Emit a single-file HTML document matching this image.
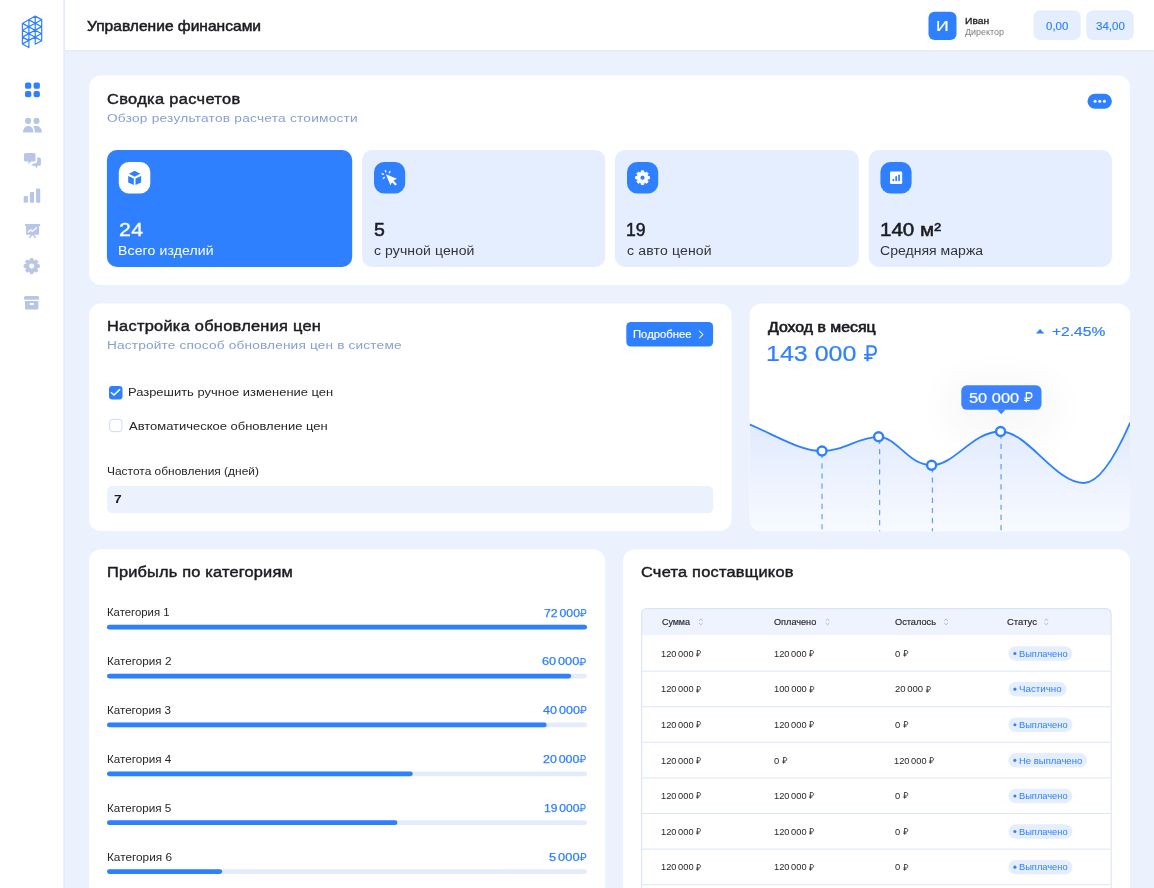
<!DOCTYPE html>
<html lang="ru"><head><meta charset="utf-8"><title>Управление финансами</title>
<style>
html,body{margin:0;padding:0;}
body{width:1154px;height:888px;overflow:hidden;position:relative;background:#EBF2FE;font-family:"Liberation Sans",sans-serif;}
.t{position:absolute;white-space:nowrap;display:block;transform-origin:0 50%;}
.rub{display:inline-block;width:0.54em;height:0.715em;vertical-align:baseline;overflow:visible;}
.rubtight .rub{margin-left:-0.02em;}
.nsp{word-spacing:-1.4px;}
.nsp2{word-spacing:-0.9px;}
.nsp2 .rub{margin-left:1px;}
#tx{position:absolute;left:0;top:0;width:1154px;height:888px;will-change:transform;}
#bg,#ov{position:absolute;left:0;top:0;width:1154px;height:888px;overflow:visible;}
</style></head><body>
<svg id="bg" width="1154" height="888" viewBox="0 0 1154 888">
<rect x="0.00" y="0.00" width="63.50" height="888.00" fill="#fff"/>
<rect x="63.50" y="0.00" width="1.45" height="888.00" fill="#E1EBFD"/>
<rect x="64.95" y="0.00" width="1090.00" height="50.30" fill="#fff"/>
<rect x="64.95" y="50.30" width="1090.00" height="1.60" fill="#E1EBFD"/>
<rect x="89.00" y="75.60" width="1041.00" height="209.40" rx="12" ry="12" fill="#fff"/>
<rect x="89.00" y="303.40" width="642.50" height="227.60" rx="12" ry="12" fill="#fff"/>
<rect x="749.60" y="303.40" width="380.40" height="227.80" rx="12" ry="12" fill="#fff"/>
<rect x="89.00" y="549.35" width="516.20" height="400.00" rx="12" ry="12" fill="#fff"/>
<rect x="623.00" y="549.35" width="507.00" height="400.00" rx="12" ry="12" fill="#fff"/>
<rect x="928.50" y="11.70" width="28.00" height="28.30" rx="6" ry="6" fill="#2F80FF"/>
<rect x="1033.40" y="10.30" width="47.20" height="29.70" rx="7" ry="7" fill="#E5EEFE"/>
<rect x="1086.30" y="10.30" width="47.40" height="29.70" rx="7" ry="7" fill="#E5EEFE"/>
<rect x="1087.50" y="93.80" width="24.40" height="15.00" rx="7.5" ry="7.5" fill="#2F80FF"/>
<rect x="1093.60" y="99.75" width="3.00" height="3.00" rx="1.5" ry="1.5" fill="#fff"/>
<rect x="1098.20" y="99.75" width="3.00" height="3.00" rx="1.5" ry="1.5" fill="#fff"/>
<rect x="1102.90" y="99.75" width="3.00" height="3.00" rx="1.5" ry="1.5" fill="#fff"/>
<rect x="106.90" y="150.00" width="245.30" height="117.00" rx="10" ry="10" fill="#2F80FF"/>
<rect x="362.10" y="150.00" width="243.20" height="117.00" rx="10" ry="10" fill="#E5EEFE"/>
<rect x="615.00" y="150.00" width="243.80" height="117.00" rx="10" ry="10" fill="#E5EEFE"/>
<rect x="868.70" y="150.00" width="243.20" height="117.00" rx="10" ry="10" fill="#E5EEFE"/>
<rect x="118.80" y="162.00" width="31.50" height="31.50" rx="10" ry="10" fill="#fff"/>
<rect x="374.00" y="162.00" width="31.20" height="31.50" rx="10" ry="10" fill="#2F80FF"/>
<rect x="627.00" y="162.00" width="31.20" height="31.50" rx="10" ry="10" fill="#2F80FF"/>
<rect x="880.40" y="162.00" width="31.20" height="31.50" rx="10" ry="10" fill="#2F80FF"/>
<rect x="626.30" y="321.90" width="86.80" height="24.60" rx="4.5" ry="4.5" fill="#2F80FF"/>
<rect x="109.00" y="385.90" width="13.50" height="13.50" rx="3.2" ry="3.2" fill="#2F80FF"/>
<rect x="109.70" y="419.40" width="12.20" height="12.20" rx="2.8" ry="2.8" fill="#fff" stroke="#CDDAF5" stroke-width="1"/>
<rect x="107.10" y="486.00" width="606.00" height="27.20" rx="5" ry="5" fill="#EBF2FE"/>
<rect x="107.00" y="624.80" width="480.00" height="4.80" rx="2.4" ry="2.4" fill="#E2ECFD"/>
<rect x="107.00" y="624.80" width="480.00" height="4.80" rx="2.4" ry="2.4" fill="#2F80FF"/>
<rect x="107.00" y="673.68" width="480.00" height="4.80" rx="2.4" ry="2.4" fill="#E2ECFD"/>
<rect x="107.00" y="673.68" width="464.16" height="4.80" rx="2.4" ry="2.4" fill="#2F80FF"/>
<rect x="107.00" y="722.56" width="480.00" height="4.80" rx="2.4" ry="2.4" fill="#E2ECFD"/>
<rect x="107.00" y="722.56" width="439.68" height="4.80" rx="2.4" ry="2.4" fill="#2F80FF"/>
<rect x="107.00" y="771.44" width="480.00" height="4.80" rx="2.4" ry="2.4" fill="#E2ECFD"/>
<rect x="107.00" y="771.44" width="305.76" height="4.80" rx="2.4" ry="2.4" fill="#2F80FF"/>
<rect x="107.00" y="820.32" width="480.00" height="4.80" rx="2.4" ry="2.4" fill="#E2ECFD"/>
<rect x="107.00" y="820.32" width="290.40" height="4.80" rx="2.4" ry="2.4" fill="#2F80FF"/>
<rect x="107.00" y="869.20" width="480.00" height="4.80" rx="2.4" ry="2.4" fill="#E2ECFD"/>
<rect x="107.00" y="869.20" width="115.20" height="4.80" rx="2.4" ry="2.4" fill="#2F80FF"/>
<path d="M641.7 635 V614.1 Q641.7 608.6 647.2 608.6 H1105.6 Q1111.1 608.6 1111.1 614.1 V635 Z" fill="#EEF3FE"/>
<path d="M641.7 900 V614.1 Q641.7 608.6 647.2 608.6 H1105.6 Q1111.1 608.6 1111.1 614.1 V900" fill="none" stroke="#D6E0F7" stroke-width="1"/>
<rect x="642.20" y="670.60" width="468.40" height="1.00" fill="#DCE5F8"/>
<rect x="642.20" y="706.20" width="468.40" height="1.00" fill="#DCE5F8"/>
<rect x="642.20" y="741.80" width="468.40" height="1.00" fill="#DCE5F8"/>
<rect x="642.20" y="777.40" width="468.40" height="1.00" fill="#DCE5F8"/>
<rect x="642.20" y="813.00" width="468.40" height="1.00" fill="#DCE5F8"/>
<rect x="642.20" y="848.60" width="468.40" height="1.00" fill="#DCE5F8"/>
<rect x="642.20" y="884.20" width="468.40" height="1.00" fill="#DCE5F8"/>
<rect x="642.20" y="919.80" width="468.40" height="1.00" fill="#DCE5F8"/>
<rect x="1008.40" y="646.30" width="64.00" height="14.50" rx="7.25" ry="7.25" fill="#E5EEFE"/>
<rect x="1013.35" y="652.00" width="3.10" height="3.10" rx="1.55" ry="1.55" fill="#2F80FF"/>
<rect x="1008.40" y="681.90" width="58.00" height="14.50" rx="7.25" ry="7.25" fill="#E5EEFE"/>
<rect x="1013.35" y="687.60" width="3.10" height="3.10" rx="1.55" ry="1.55" fill="#2F80FF"/>
<rect x="1008.40" y="717.50" width="64.00" height="14.50" rx="7.25" ry="7.25" fill="#E5EEFE"/>
<rect x="1013.35" y="723.20" width="3.10" height="3.10" rx="1.55" ry="1.55" fill="#2F80FF"/>
<rect x="1008.40" y="753.10" width="78.60" height="14.50" rx="7.25" ry="7.25" fill="#E5EEFE"/>
<rect x="1013.35" y="758.80" width="3.10" height="3.10" rx="1.55" ry="1.55" fill="#2F80FF"/>
<rect x="1008.40" y="788.70" width="64.00" height="14.50" rx="7.25" ry="7.25" fill="#E5EEFE"/>
<rect x="1013.35" y="794.40" width="3.10" height="3.10" rx="1.55" ry="1.55" fill="#2F80FF"/>
<rect x="1008.40" y="824.30" width="64.00" height="14.50" rx="7.25" ry="7.25" fill="#E5EEFE"/>
<rect x="1013.35" y="830.00" width="3.10" height="3.10" rx="1.55" ry="1.55" fill="#2F80FF"/>
<rect x="1008.40" y="859.90" width="64.00" height="14.50" rx="7.25" ry="7.25" fill="#E5EEFE"/>
<rect x="1013.35" y="865.60" width="3.10" height="3.10" rx="1.55" ry="1.55" fill="#2F80FF"/>
</svg>
<div style="position:absolute;left:961.30px;top:385.30px;width:80.20px;height:24.50px;background:transparent;border-radius:5.5px;box-shadow:0 10px 36px 14px rgba(40,50,90,0.038);"></div>
<svg id="ov" width="1154" height="888" viewBox="0 0 1154 888">
<defs>
<linearGradient id="gfill" x1="0" y1="424" x2="0" y2="531" gradientUnits="userSpaceOnUse">
<stop offset="0" stop-color="#E1EAFD"/><stop offset="1" stop-color="#F7FAFF"/></linearGradient>
<clipPath id="gclip"><rect x="749.6" y="303.4" width="380.4" height="227.8" rx="12" ry="12"/></clipPath>
</defs>
<path d="M22.4 23.4L22.4 43.9 M28.9 19.9L28.9 47.6 M35.2 16.1L35.2 44.2 M41.7 19.6L41.7 40.7 M22.4 23.4L35.2 16.1 M22.4 30.3L41.7 19.7 M22.4 37.1L41.7 26.6 M22.4 43.9L41.7 33.5 M35.2 44.2L41.7 40.7 M35.2 16.1L41.7 19.6 M28.9 19.9L41.7 26.8 M22.4 23.4L41.7 33.8 M22.4 30.3L41.7 40.7 M22.4 37.1L28.9 40.6 M22.4 43.9L28.9 47.6" fill="none" stroke="#2F80FF" stroke-width="1.2" stroke-linecap="round"/>
<rect x="25.0" y="82.6" width="6.3" height="6.2" rx="1.9" fill="#2F80FF"/>
<rect x="25.0" y="91.0" width="6.3" height="6.2" rx="1.9" fill="#2F80FF"/>
<rect x="33.6" y="82.6" width="6.3" height="6.2" rx="1.9" fill="#2F80FF"/>
<rect x="33.6" y="91.0" width="6.3" height="6.2" rx="1.9" fill="#2F80FF"/>
<g fill="#B6C5E8"><circle cx="28.1" cy="120.9" r="3.05"/><circle cx="36.5" cy="120.9" r="3.05"/><path d="M23 132.6 C23 128.6 25.2 126 28.25 126 C31.3 126 33.5 128.6 33.5 132.6 Z"/><path d="M34.9 132.6 C34.9 130 34.3 127.9 33.2 126.5 C34.2 126.15 35.2 126 36.2 126 C39.6 126 41.9 128.6 41.9 132.6 Z"/></g>
<g fill="#B6C5E8"><path d="M25.6 153 H33.9 Q35.5 153 35.5 154.6 V160 Q35.5 161.6 33.9 161.6 H31 L28.4 164.4 V161.6 H25.6 Q24 161.6 24 160 V154.6 Q24 153 25.6 153 Z"/><path d="M37.2 157.4 H39.3 Q40.9 157.4 40.9 159 V164.2 Q40.9 165.8 39.3 165.8 H37.3 L37.3 168.6 L34.5 165.8 H31.2 L33.2 163.4 H34.6 Q37.2 163.4 37.2 160.8 Z"/></g>
<g fill="#B6C5E8"><rect x="23.7" y="195.9" width="4.2" height="6.9" rx="0.8"/><rect x="29.9" y="191.9" width="4.1" height="10.9" rx="0.8"/><rect x="36.1" y="188.6" width="4.1" height="14.2" rx="0.8"/></g>
<g fill="#B6C5E8"><rect x="25" y="224" width="15.1" height="2" rx="0.5"/><rect x="26.1" y="225.5" width="12.9" height="9.3" rx="0.8"/><path d="M31.6 234 L28.7 237.4 L29.9 238.2 L32.55 235.2 L35.2 238.2 L36.4 237.4 L33.5 234 Z"/></g><path d="M28.3 232 L30.6 229.7 L32.5 231.4 L36.4 227.7" fill="none" stroke="#fff" stroke-width="1.3" stroke-linecap="round" stroke-linejoin="round"/>
<path d="M30.44 258.50 L32.96 258.50 L33.31 260.43 L34.57 260.95 L36.18 259.84 L37.96 261.62 L36.85 263.23 L37.37 264.49 L39.30 264.84 L39.30 267.36 L37.37 267.71 L36.85 268.97 L37.96 270.58 L36.18 272.36 L34.57 271.25 L33.31 271.77 L32.96 273.70 L30.44 273.70 L30.09 271.77 L28.83 271.25 L27.22 272.36 L25.44 270.58 L26.55 268.97 L26.03 267.71 L24.10 267.36 L24.10 264.84 L26.03 264.49 L26.55 263.23 L25.44 261.62 L27.22 259.84 L28.83 260.95 L30.09 260.43 Z M28.70 266.10 a3.0 3.0 0 1 0 6.0 0 a3.0 3.0 0 1 0 -6.0 0 Z" fill="#B6C5E8" fill-rule="evenodd" stroke="#B6C5E8" stroke-width="0.9" stroke-linejoin="round"/>
<g fill="#B6C5E8"><rect x="24" y="296.1" width="15.1" height="3.7" rx="1.6"/><path fill-rule="evenodd" d="M25 301 H38.4 V308.3 Q38.4 309.5 37.2 309.5 H26.2 Q25 309.5 25 308.3 Z M29.8 303 H33.8 V304.9 H29.8 Z"/></g>
<g fill="#2F80FF"><path d="M134.6 170.7 L140.3 173.7 L134.6 176.8 L129 173.7 Z"/><path d="M128.2 175.9 L133.8 178.5 V185.1 L128.2 182.5 Z"/><path d="M135.5 178.5 L141.1 175.9 V182.5 L135.5 185.1 Z"/></g>
<g fill="#fff"><path d="M385.9 174.3 L397 178.7 L393.5 180.6 L396.9 184.3 L395.3 185.5 L392 182.2 L390.4 185.3 Z"/></g><g stroke="#fff" stroke-width="1.35" stroke-linecap="round"><path d="M385.4 170.6 L385.8 171.8"/><path d="M390 171.6 L389.2 172.8"/><path d="M382.2 173.8 L383.4 174.2"/><path d="M383.4 178.3 L384.4 177.4"/></g>
<path d="M641.35 170.79 L643.65 170.79 L643.95 172.60 L645.08 173.07 L646.57 172.00 L648.20 173.63 L647.13 175.12 L647.60 176.25 L649.41 176.55 L649.41 178.85 L647.60 179.15 L647.13 180.28 L648.20 181.77 L646.57 183.40 L645.08 182.33 L643.95 182.80 L643.65 184.61 L641.35 184.61 L641.05 182.80 L639.92 182.33 L638.43 183.40 L636.80 181.77 L637.87 180.28 L637.40 179.15 L635.59 178.85 L635.59 176.55 L637.40 176.25 L637.87 175.12 L636.80 173.63 L638.43 172.00 L639.92 173.07 L641.05 172.60 Z M640.00 177.70 a2.5 2.5 0 1 0 5.0 0 a2.5 2.5 0 1 0 -5.0 0 Z" fill="#fff" fill-rule="evenodd" stroke="#fff" stroke-width="0.9" stroke-linejoin="round"/>
<rect x="890" y="171.5" width="12.2" height="12.6" rx="1.3" fill="#fff"/><g fill="#2F80FF"><rect x="892.5" y="178.8" width="1.7" height="2.5" rx="0.8"/><rect x="895.3" y="176" width="1.7" height="5.3" rx="0.8"/><rect x="898.2" y="174.4" width="1.7" height="6.9" rx="0.8"/></g>
<path d="M111.4 392.7 L114 395 L119.6 389.6" fill="none" stroke="#fff" stroke-width="1.5" stroke-linecap="round" stroke-linejoin="round"/>
<path d="M699.4 331 L702.9 334.5 L699.4 338" fill="none" stroke="#fff" stroke-width="1.05" stroke-linecap="round" stroke-linejoin="round"/>
<g clip-path="url(#gclip)">
<path d="M749.5 424.4 C775 435 800 451 822 451 C845 451 858 436.8 878.6 436.8 C897 436.8 908 465.2 931.6 465.2 C955 465.2 972 431.5 1000.6 431.5 C1028 431.5 1055 483 1083.7 483 C1100 483 1116 455 1130.2 422.5 L1131 532 L749 532 Z" fill="url(#gfill)"/>
<path d="M822.05 453.1 V532" stroke="#2F80FF" stroke-opacity="0.52" stroke-width="1.7" stroke-dasharray="5.2 4.95" fill="none"/>
<path d="M879.6 438.90000000000003 V532" stroke="#2F80FF" stroke-opacity="0.72" stroke-width="1.25" stroke-dasharray="5.2 4.95" fill="none"/>
<path d="M932.45 467.3 V532" stroke="#2F80FF" stroke-opacity="0.72" stroke-width="1.25" stroke-dasharray="5.2 4.95" fill="none"/>
<path d="M1001.05 433.6 V532" stroke="#2F80FF" stroke-opacity="0.68" stroke-width="1.35" stroke-dasharray="5.2 4.95" fill="none"/>
<path d="M749.5 424.4 C775 435 800 451 822 451 C845 451 858 436.8 878.6 436.8 C897 436.8 908 465.2 931.6 465.2 C955 465.2 972 431.5 1000.6 431.5 C1028 431.5 1055 483 1083.7 483 C1100 483 1116 455 1130.2 422.5" fill="none" stroke="#2F80FF" stroke-width="1.85"/>
</g>
<circle cx="822" cy="451" r="4.5" fill="#fff" stroke="#2F80FF" stroke-width="2.4"/>
<circle cx="878.6" cy="436.8" r="4.5" fill="#fff" stroke="#2F80FF" stroke-width="2.4"/>
<circle cx="931.6" cy="465.2" r="4.5" fill="#fff" stroke="#2F80FF" stroke-width="2.4"/>
<circle cx="1000.6" cy="431.5" r="4.5" fill="#fff" stroke="#2F80FF" stroke-width="2.4"/>
<path d="M1036.4 333.2 L1040.1 329.3 L1043.8 333.2 Z" fill="#2F80FF" stroke="#2F80FF" stroke-width="0.5" stroke-linejoin="round"/>
<rect x="961.3" y="385.3" width="80.2" height="24.5" rx="5.5" fill="#3D82FF"/><path d="M996.8 409.5 H1005.6 L1001.2 414.2 Z" fill="#3D82FF"/>
<path d="M699.3000000000001 620.5 L700.85 619.0 L702.4 620.5" fill="none" stroke="#9AA3C4" stroke-width="0.75" stroke-linecap="round" stroke-linejoin="round"/><path d="M699.3000000000001 623.3 L700.85 624.8 L702.4 623.3" fill="none" stroke="#8FA8DE" stroke-width="0.75" stroke-linecap="round" stroke-linejoin="round"/>
<path d="M826.0500000000001 620.5 L827.6 619.0 L829.15 620.5" fill="none" stroke="#9AA3C4" stroke-width="0.75" stroke-linecap="round" stroke-linejoin="round"/><path d="M826.0500000000001 623.3 L827.6 624.8 L829.15 623.3" fill="none" stroke="#8FA8DE" stroke-width="0.75" stroke-linecap="round" stroke-linejoin="round"/>
<path d="M944.5500000000001 620.5 L946.1 619.0 L947.65 620.5" fill="none" stroke="#9AA3C4" stroke-width="0.75" stroke-linecap="round" stroke-linejoin="round"/><path d="M944.5500000000001 623.3 L946.1 624.8 L947.65 623.3" fill="none" stroke="#8FA8DE" stroke-width="0.75" stroke-linecap="round" stroke-linejoin="round"/>
<path d="M1044.75 620.5 L1046.3 619.0 L1047.85 620.5" fill="none" stroke="#9AA3C4" stroke-width="0.75" stroke-linecap="round" stroke-linejoin="round"/><path d="M1044.75 623.3 L1046.3 624.8 L1047.85 623.3" fill="none" stroke="#8FA8DE" stroke-width="0.75" stroke-linecap="round" stroke-linejoin="round"/>
</svg>
<div id="tx">
<span class="t " id="h_title" style="left:86.75px;top:18.91px;font-size:14.4px;line-height:14.4px;color:#1B1B20;transform:scaleX(1.0817);-webkit-text-stroke:0.5px #1B1B20;">Управление финансами</span>
<span class="t " id="h_av" style="left:935.58px;top:18.60px;font-size:14px;line-height:14px;color:#fff;transform:scaleX(1.2554);-webkit-text-stroke:0.2px #fff;">И</span>
<span class="t " id="h_name" style="left:965.02px;top:15.76px;font-size:9.6px;line-height:9.6px;color:#1B1B20;transform:scaleX(1.0712);-webkit-text-stroke:0.3px #1B1B20;">Иван</span>
<span class="t " id="h_role" style="left:965.03px;top:28.31px;font-size:8.5px;line-height:8.5px;color:#7C7C82;transform:scaleX(1.0543);">Директор</span>
<span class="t " id="h_b1" style="left:1046.13px;top:21.00px;font-size:11px;line-height:11px;color:#2F80FF;transform:scaleX(1.0428);-webkit-text-stroke:0.15px #2F80FF;">0,00</span>
<span class="t " id="h_b2" style="left:1095.89px;top:21.00px;font-size:11px;line-height:11px;color:#2F80FF;transform:scaleX(1.0491);-webkit-text-stroke:0.15px #2F80FF;">34,00</span>
<span class="t " id="s_title" style="left:106.91px;top:91.90px;font-size:14px;line-height:14px;color:#1B1B20;letter-spacing:0.296px;transform:scaleX(1.17);-webkit-text-stroke:0.42px #1B1B20;">Сводка расчетов</span>
<span class="t " id="s_sub" style="left:106.85px;top:111.61px;font-size:11.7px;line-height:11.7px;color:#879FD2;letter-spacing:0.201px;transform:scaleX(1.17);">Обзор результатов расчета стоимости</span>
<span class="t " id="c1_n" style="left:118.70px;top:221.01px;font-size:18.3px;line-height:18.3px;color:#fff;letter-spacing:0.385px;transform:scaleX(1.17);-webkit-text-stroke:0.3px #fff;">24</span>
<span class="t " id="c1_l" style="left:118.45px;top:244.82px;font-size:12px;line-height:12px;color:#fff;letter-spacing:0.108px;transform:scaleX(1.17);">Всего изделий</span>
<span class="t " id="c2_n" style="left:374.09px;top:221.90px;font-size:17.9px;line-height:17.9px;color:#1B1B20;transform:scaleX(1.0907);-webkit-text-stroke:0.5px #1B1B20;">5</span>
<span class="t " id="c2_l" style="left:374.00px;top:244.82px;font-size:12px;line-height:12px;color:#33343A;letter-spacing:0.069px;transform:scaleX(1.17);">с ручной ценой</span>
<span class="t " id="c3_n" style="left:626.01px;top:221.90px;font-size:17.9px;line-height:17.9px;color:#1B1B20;transform:scaleX(0.9838);-webkit-text-stroke:0.5px #1B1B20;">19</span>
<span class="t " id="c3_l" style="left:626.50px;top:244.82px;font-size:12px;line-height:12px;color:#33343A;letter-spacing:0.133px;transform:scaleX(1.17);">с авто ценой</span>
<span class="t " id="c4_n" style="left:879.72px;top:221.90px;font-size:17.9px;line-height:17.9px;color:#1B1B20;transform:scaleX(1.1489);-webkit-text-stroke:0.5px #1B1B20;">140 м²</span>
<span class="t " id="c4_l" style="left:880.29px;top:244.82px;font-size:12px;line-height:12px;color:#33343A;letter-spacing:0.010px;transform:scaleX(1.17);">Средняя маржа</span>
<span class="t " id="p_title" style="left:107.20px;top:319.40px;font-size:14px;line-height:14px;color:#1B1B20;letter-spacing:0.226px;transform:scaleX(1.17);-webkit-text-stroke:0.42px #1B1B20;">Настройка обновления цен</span>
<span class="t " id="p_sub" style="left:107.18px;top:338.90px;font-size:11.7px;line-height:11.7px;color:#879FD2;letter-spacing:0.134px;transform:scaleX(1.17);">Настройте способ обновления цен в системе</span>
<span class="t " id="p_btn" style="left:633.16px;top:329.12px;font-size:11.3px;line-height:11.3px;color:#fff;transform:scaleX(0.9987);-webkit-text-stroke:0.15px #fff;">Подробнее</span>
<span class="t " id="p_c1" style="left:127.94px;top:386.61px;font-size:11.5px;line-height:11.5px;color:#25262B;transform:scaleX(1.1248);">Разрешить ручное изменение цен</span>
<span class="t " id="p_c2" style="left:129.18px;top:420.66px;font-size:11.5px;line-height:11.5px;color:#25262B;transform:scaleX(1.1269);">Автоматическое обновление цен</span>
<span class="t " id="p_lbl" style="left:106.67px;top:466.20px;font-size:11.2px;line-height:11.2px;color:#25262B;transform:scaleX(1.0683);">Частота обновления (дней)</span>
<span class="t " id="p_val" style="left:114.41px;top:492.81px;font-size:11.6px;line-height:11.6px;color:#1B1B20;font-weight:700;transform:scaleX(1.1938);">7</span>
<span class="t " id="g_title" style="left:768.32px;top:319.90px;font-size:14px;line-height:14px;color:#1B1B20;transform:scaleX(1.1337);-webkit-text-stroke:0.6px #1B1B20;">Доход в месяц</span>
<span class="t " id="g_val" style="left:765.96px;top:343.40px;font-size:22.6px;line-height:22.6px;color:#2F80FF;transform:scaleX(1.1066);-webkit-text-stroke:0.2px #2F80FF;">143 000 <svg class="rub" viewBox="0 0 62 72" preserveAspectRatio="none"><path d="M19 1 V72 M19 5.5 H38 C52 5.5 57.5 14 57.5 24.5 C57.5 35 52 43.5 38 43.5 H19" fill="none" stroke="currentColor" stroke-width="9.5"/><path d="M3 43.5 H19 M3 58.5 H42" fill="none" stroke="currentColor" stroke-width="7.5"/></svg></span>
<span class="t " id="g_pct" style="left:1052.10px;top:325.25px;font-size:13.6px;line-height:13.6px;color:#2F80FF;transform:scaleX(1.1475);-webkit-text-stroke:0.2px #2F80FF;">+2.45%</span>
<span class="t " id="g_tip" style="left:969.46px;top:390.76px;font-size:14.4px;line-height:14.4px;color:#fff;transform:scaleX(1.1389);-webkit-text-stroke:0.2px #fff;">50 000 <svg class="rub" viewBox="0 0 62 72" preserveAspectRatio="none"><path d="M19 1 V72 M19 5.5 H38 C52 5.5 57.5 14 57.5 24.5 C57.5 35 52 43.5 38 43.5 H19" fill="none" stroke="currentColor" stroke-width="9.5"/><path d="M3 43.5 H19 M3 58.5 H42" fill="none" stroke="currentColor" stroke-width="7.5"/></svg></span>
<span class="t " id="k_title" style="left:106.67px;top:565.31px;font-size:14px;line-height:14px;color:#1B1B20;letter-spacing:0.151px;transform:scaleX(1.17);-webkit-text-stroke:0.42px #1B1B20;">Прибыль по категориям</span>
<span class="t " id="k_l0" style="left:106.57px;top:607.20px;font-size:11.4px;line-height:11.4px;color:#25262B;transform:scaleX(0.9958);">Категория 1</span>
<span class="t rubtight nsp" id="k_v0" style="left:543.76px;top:607.50px;font-size:11px;line-height:11px;color:#2F80FF;transform:scaleX(1.1154);-webkit-text-stroke:0.25px #2F80FF;">72 000<svg class="rub" viewBox="0 0 62 72" preserveAspectRatio="none"><path d="M19 1 V72 M19 5.5 H38 C52 5.5 57.5 14 57.5 24.5 C57.5 35 52 43.5 38 43.5 H19" fill="none" stroke="currentColor" stroke-width="9.5"/><path d="M3 43.5 H19 M3 58.5 H42" fill="none" stroke="currentColor" stroke-width="7.5"/></svg></span>
<span class="t " id="k_l1" style="left:106.54px;top:656.09px;font-size:11.4px;line-height:11.4px;color:#25262B;transform:scaleX(1.0271);">Категория 2</span>
<span class="t rubtight nsp" id="k_v1" style="left:542.25px;top:656.39px;font-size:11px;line-height:11px;color:#2F80FF;transform:scaleX(1.1551);-webkit-text-stroke:0.25px #2F80FF;">60 000<svg class="rub" viewBox="0 0 62 72" preserveAspectRatio="none"><path d="M19 1 V72 M19 5.5 H38 C52 5.5 57.5 14 57.5 24.5 C57.5 35 52 43.5 38 43.5 H19" fill="none" stroke="currentColor" stroke-width="9.5"/><path d="M3 43.5 H19 M3 58.5 H42" fill="none" stroke="currentColor" stroke-width="7.5"/></svg></span>
<span class="t " id="k_l2" style="left:106.55px;top:704.97px;font-size:11.4px;line-height:11.4px;color:#25262B;transform:scaleX(1.0193);">Категория 3</span>
<span class="t rubtight nsp" id="k_v2" style="left:542.60px;top:705.27px;font-size:11px;line-height:11px;color:#2F80FF;transform:scaleX(1.1458);-webkit-text-stroke:0.25px #2F80FF;">40 000<svg class="rub" viewBox="0 0 62 72" preserveAspectRatio="none"><path d="M19 1 V72 M19 5.5 H38 C52 5.5 57.5 14 57.5 24.5 C57.5 35 52 43.5 38 43.5 H19" fill="none" stroke="currentColor" stroke-width="9.5"/><path d="M3 43.5 H19 M3 58.5 H42" fill="none" stroke="currentColor" stroke-width="7.5"/></svg></span>
<span class="t " id="k_l3" style="left:106.54px;top:753.84px;font-size:11.4px;line-height:11.4px;color:#25262B;transform:scaleX(1.0231);">Категория 4</span>
<span class="t rubtight nsp" id="k_v3" style="left:543.27px;top:754.14px;font-size:11px;line-height:11px;color:#2F80FF;transform:scaleX(1.1284);-webkit-text-stroke:0.25px #2F80FF;">20 000<svg class="rub" viewBox="0 0 62 72" preserveAspectRatio="none"><path d="M19 1 V72 M19 5.5 H38 C52 5.5 57.5 14 57.5 24.5 C57.5 35 52 43.5 38 43.5 H19" fill="none" stroke="currentColor" stroke-width="9.5"/><path d="M3 43.5 H19 M3 58.5 H42" fill="none" stroke="currentColor" stroke-width="7.5"/></svg></span>
<span class="t " id="k_l4" style="left:106.54px;top:802.73px;font-size:11.4px;line-height:11.4px;color:#25262B;transform:scaleX(1.0255);">Категория 5</span>
<span class="t rubtight nsp" id="k_v4" style="left:544.47px;top:803.03px;font-size:11px;line-height:11px;color:#2F80FF;transform:scaleX(1.0968);-webkit-text-stroke:0.25px #2F80FF;">19 000<svg class="rub" viewBox="0 0 62 72" preserveAspectRatio="none"><path d="M19 1 V72 M19 5.5 H38 C52 5.5 57.5 14 57.5 24.5 C57.5 35 52 43.5 38 43.5 H19" fill="none" stroke="currentColor" stroke-width="9.5"/><path d="M3 43.5 H19 M3 58.5 H42" fill="none" stroke="currentColor" stroke-width="7.5"/></svg></span>
<span class="t " id="k_l5" style="left:106.53px;top:851.61px;font-size:11.4px;line-height:11.4px;color:#25262B;transform:scaleX(1.0357);">Категория 6</span>
<span class="t rubtight nsp" id="k_v5" style="left:548.88px;top:851.91px;font-size:11px;line-height:11px;color:#2F80FF;transform:scaleX(1.1683);-webkit-text-stroke:0.25px #2F80FF;">5 000<svg class="rub" viewBox="0 0 62 72" preserveAspectRatio="none"><path d="M19 1 V72 M19 5.5 H38 C52 5.5 57.5 14 57.5 24.5 C57.5 35 52 43.5 38 43.5 H19" fill="none" stroke="currentColor" stroke-width="9.5"/><path d="M3 43.5 H19 M3 58.5 H42" fill="none" stroke="currentColor" stroke-width="7.5"/></svg></span>
<span class="t " id="i_title" style="left:641.16px;top:565.31px;font-size:14px;line-height:14px;color:#1B1B20;letter-spacing:0.196px;transform:scaleX(1.17);-webkit-text-stroke:0.42px #1B1B20;">Счета поставщиков</span>
<span class="t " id="i_h0" style="left:661.51px;top:616.91px;font-size:9.6px;line-height:9.6px;color:#25262B;letter-spacing:-0.088px;transform:scaleX(0.94);-webkit-text-stroke:0.15px #25262B;">Сумма</span>
<span class="t " id="i_h1" style="left:774.39px;top:616.91px;font-size:9.6px;line-height:9.6px;color:#25262B;transform:scaleX(0.9519);-webkit-text-stroke:0.15px #25262B;">Оплачено</span>
<span class="t " id="i_h2" style="left:894.64px;top:616.91px;font-size:9.6px;line-height:9.6px;color:#25262B;transform:scaleX(0.9591);-webkit-text-stroke:0.15px #25262B;">Осталось</span>
<span class="t " id="i_h3" style="left:1006.89px;top:616.91px;font-size:9.6px;line-height:9.6px;color:#25262B;transform:scaleX(0.9887);-webkit-text-stroke:0.15px #25262B;">Статус</span>
<span class="t nsp2" id="i_a0" style="left:661.20px;top:649.70px;font-size:9.3px;line-height:9.3px;color:#25262B;transform:scaleX(0.995);">120 000 <svg class="rub" viewBox="0 0 62 72" preserveAspectRatio="none"><path d="M19 1 V72 M19 5.5 H38 C52 5.5 57.5 14 57.5 24.5 C57.5 35 52 43.5 38 43.5 H19" fill="none" stroke="currentColor" stroke-width="9.5"/><path d="M3 43.5 H19 M3 58.5 H42" fill="none" stroke="currentColor" stroke-width="7.5"/></svg></span>
<span class="t nsp2" id="i_b0" style="left:773.90px;top:649.70px;font-size:9.3px;line-height:9.3px;color:#25262B;transform:scaleX(0.995);">120 000 <svg class="rub" viewBox="0 0 62 72" preserveAspectRatio="none"><path d="M19 1 V72 M19 5.5 H38 C52 5.5 57.5 14 57.5 24.5 C57.5 35 52 43.5 38 43.5 H19" fill="none" stroke="currentColor" stroke-width="9.5"/><path d="M3 43.5 H19 M3 58.5 H42" fill="none" stroke="currentColor" stroke-width="7.5"/></svg></span>
<span class="t nsp2" id="i_c0" style="left:894.63px;top:649.70px;font-size:9.3px;line-height:9.3px;color:#25262B;transform:scaleX(1.0071);">0 <svg class="rub" viewBox="0 0 62 72" preserveAspectRatio="none"><path d="M19 1 V72 M19 5.5 H38 C52 5.5 57.5 14 57.5 24.5 C57.5 35 52 43.5 38 43.5 H19" fill="none" stroke="currentColor" stroke-width="9.5"/><path d="M3 43.5 H19 M3 58.5 H42" fill="none" stroke="currentColor" stroke-width="7.5"/></svg></span>
<span class="t " id="i_s0" style="left:1018.84px;top:648.71px;font-size:9.6px;line-height:9.6px;color:#2F80FF;transform:scaleX(0.9674);">Выплачено</span>
<span class="t nsp2" id="i_a1" style="left:661.20px;top:685.31px;font-size:9.3px;line-height:9.3px;color:#25262B;transform:scaleX(0.995);">120 000 <svg class="rub" viewBox="0 0 62 72" preserveAspectRatio="none"><path d="M19 1 V72 M19 5.5 H38 C52 5.5 57.5 14 57.5 24.5 C57.5 35 52 43.5 38 43.5 H19" fill="none" stroke="currentColor" stroke-width="9.5"/><path d="M3 43.5 H19 M3 58.5 H42" fill="none" stroke="currentColor" stroke-width="7.5"/></svg></span>
<span class="t nsp2" id="i_b1" style="left:773.89px;top:685.31px;font-size:9.3px;line-height:9.3px;color:#25262B;transform:scaleX(1.0026);">100 000 <svg class="rub" viewBox="0 0 62 72" preserveAspectRatio="none"><path d="M19 1 V72 M19 5.5 H38 C52 5.5 57.5 14 57.5 24.5 C57.5 35 52 43.5 38 43.5 H19" fill="none" stroke="currentColor" stroke-width="9.5"/><path d="M3 43.5 H19 M3 58.5 H42" fill="none" stroke="currentColor" stroke-width="7.5"/></svg></span>
<span class="t nsp2" id="i_c1" style="left:894.52px;top:685.31px;font-size:9.3px;line-height:9.3px;color:#25262B;transform:scaleX(1.0211);">20 000 <svg class="rub" viewBox="0 0 62 72" preserveAspectRatio="none"><path d="M19 1 V72 M19 5.5 H38 C52 5.5 57.5 14 57.5 24.5 C57.5 35 52 43.5 38 43.5 H19" fill="none" stroke="currentColor" stroke-width="9.5"/><path d="M3 43.5 H19 M3 58.5 H42" fill="none" stroke="currentColor" stroke-width="7.5"/></svg></span>
<span class="t " id="i_s1" style="left:1018.84px;top:684.32px;font-size:9.6px;line-height:9.6px;color:#2F80FF;transform:scaleX(1.0179);">Частично</span>
<span class="t nsp2" id="i_a2" style="left:661.20px;top:720.91px;font-size:9.3px;line-height:9.3px;color:#25262B;transform:scaleX(0.995);">120 000 <svg class="rub" viewBox="0 0 62 72" preserveAspectRatio="none"><path d="M19 1 V72 M19 5.5 H38 C52 5.5 57.5 14 57.5 24.5 C57.5 35 52 43.5 38 43.5 H19" fill="none" stroke="currentColor" stroke-width="9.5"/><path d="M3 43.5 H19 M3 58.5 H42" fill="none" stroke="currentColor" stroke-width="7.5"/></svg></span>
<span class="t nsp2" id="i_b2" style="left:773.90px;top:720.91px;font-size:9.3px;line-height:9.3px;color:#25262B;transform:scaleX(0.995);">120 000 <svg class="rub" viewBox="0 0 62 72" preserveAspectRatio="none"><path d="M19 1 V72 M19 5.5 H38 C52 5.5 57.5 14 57.5 24.5 C57.5 35 52 43.5 38 43.5 H19" fill="none" stroke="currentColor" stroke-width="9.5"/><path d="M3 43.5 H19 M3 58.5 H42" fill="none" stroke="currentColor" stroke-width="7.5"/></svg></span>
<span class="t nsp2" id="i_c2" style="left:894.63px;top:720.91px;font-size:9.3px;line-height:9.3px;color:#25262B;transform:scaleX(1.0071);">0 <svg class="rub" viewBox="0 0 62 72" preserveAspectRatio="none"><path d="M19 1 V72 M19 5.5 H38 C52 5.5 57.5 14 57.5 24.5 C57.5 35 52 43.5 38 43.5 H19" fill="none" stroke="currentColor" stroke-width="9.5"/><path d="M3 43.5 H19 M3 58.5 H42" fill="none" stroke="currentColor" stroke-width="7.5"/></svg></span>
<span class="t " id="i_s2" style="left:1018.84px;top:719.91px;font-size:9.6px;line-height:9.6px;color:#2F80FF;transform:scaleX(0.9674);">Выплачено</span>
<span class="t nsp2" id="i_a3" style="left:661.20px;top:756.50px;font-size:9.3px;line-height:9.3px;color:#25262B;transform:scaleX(0.995);">120 000 <svg class="rub" viewBox="0 0 62 72" preserveAspectRatio="none"><path d="M19 1 V72 M19 5.5 H38 C52 5.5 57.5 14 57.5 24.5 C57.5 35 52 43.5 38 43.5 H19" fill="none" stroke="currentColor" stroke-width="9.5"/><path d="M3 43.5 H19 M3 58.5 H42" fill="none" stroke="currentColor" stroke-width="7.5"/></svg></span>
<span class="t nsp2" id="i_b3" style="left:774.23px;top:756.50px;font-size:9.3px;line-height:9.3px;color:#25262B;transform:scaleX(1.0071);">0 <svg class="rub" viewBox="0 0 62 72" preserveAspectRatio="none"><path d="M19 1 V72 M19 5.5 H38 C52 5.5 57.5 14 57.5 24.5 C57.5 35 52 43.5 38 43.5 H19" fill="none" stroke="currentColor" stroke-width="9.5"/><path d="M3 43.5 H19 M3 58.5 H42" fill="none" stroke="currentColor" stroke-width="7.5"/></svg></span>
<span class="t nsp2" id="i_c3" style="left:894.30px;top:756.50px;font-size:9.3px;line-height:9.3px;color:#25262B;transform:scaleX(0.995);">120 000 <svg class="rub" viewBox="0 0 62 72" preserveAspectRatio="none"><path d="M19 1 V72 M19 5.5 H38 C52 5.5 57.5 14 57.5 24.5 C57.5 35 52 43.5 38 43.5 H19" fill="none" stroke="currentColor" stroke-width="9.5"/><path d="M3 43.5 H19 M3 58.5 H42" fill="none" stroke="currentColor" stroke-width="7.5"/></svg></span>
<span class="t " id="i_s3" style="left:1018.82px;top:755.51px;font-size:9.6px;line-height:9.6px;color:#2F80FF;transform:scaleX(0.9901);">Не выплачено</span>
<span class="t nsp2" id="i_a4" style="left:661.20px;top:792.11px;font-size:9.3px;line-height:9.3px;color:#25262B;transform:scaleX(0.995);">120 000 <svg class="rub" viewBox="0 0 62 72" preserveAspectRatio="none"><path d="M19 1 V72 M19 5.5 H38 C52 5.5 57.5 14 57.5 24.5 C57.5 35 52 43.5 38 43.5 H19" fill="none" stroke="currentColor" stroke-width="9.5"/><path d="M3 43.5 H19 M3 58.5 H42" fill="none" stroke="currentColor" stroke-width="7.5"/></svg></span>
<span class="t nsp2" id="i_b4" style="left:773.90px;top:792.11px;font-size:9.3px;line-height:9.3px;color:#25262B;transform:scaleX(0.995);">120 000 <svg class="rub" viewBox="0 0 62 72" preserveAspectRatio="none"><path d="M19 1 V72 M19 5.5 H38 C52 5.5 57.5 14 57.5 24.5 C57.5 35 52 43.5 38 43.5 H19" fill="none" stroke="currentColor" stroke-width="9.5"/><path d="M3 43.5 H19 M3 58.5 H42" fill="none" stroke="currentColor" stroke-width="7.5"/></svg></span>
<span class="t nsp2" id="i_c4" style="left:894.63px;top:792.11px;font-size:9.3px;line-height:9.3px;color:#25262B;transform:scaleX(1.0071);">0 <svg class="rub" viewBox="0 0 62 72" preserveAspectRatio="none"><path d="M19 1 V72 M19 5.5 H38 C52 5.5 57.5 14 57.5 24.5 C57.5 35 52 43.5 38 43.5 H19" fill="none" stroke="currentColor" stroke-width="9.5"/><path d="M3 43.5 H19 M3 58.5 H42" fill="none" stroke="currentColor" stroke-width="7.5"/></svg></span>
<span class="t " id="i_s4" style="left:1018.84px;top:791.10px;font-size:9.6px;line-height:9.6px;color:#2F80FF;transform:scaleX(0.9674);">Выплачено</span>
<span class="t nsp2" id="i_a5" style="left:661.20px;top:827.70px;font-size:9.3px;line-height:9.3px;color:#25262B;transform:scaleX(0.995);">120 000 <svg class="rub" viewBox="0 0 62 72" preserveAspectRatio="none"><path d="M19 1 V72 M19 5.5 H38 C52 5.5 57.5 14 57.5 24.5 C57.5 35 52 43.5 38 43.5 H19" fill="none" stroke="currentColor" stroke-width="9.5"/><path d="M3 43.5 H19 M3 58.5 H42" fill="none" stroke="currentColor" stroke-width="7.5"/></svg></span>
<span class="t nsp2" id="i_b5" style="left:773.90px;top:827.70px;font-size:9.3px;line-height:9.3px;color:#25262B;transform:scaleX(0.995);">120 000 <svg class="rub" viewBox="0 0 62 72" preserveAspectRatio="none"><path d="M19 1 V72 M19 5.5 H38 C52 5.5 57.5 14 57.5 24.5 C57.5 35 52 43.5 38 43.5 H19" fill="none" stroke="currentColor" stroke-width="9.5"/><path d="M3 43.5 H19 M3 58.5 H42" fill="none" stroke="currentColor" stroke-width="7.5"/></svg></span>
<span class="t nsp2" id="i_c5" style="left:894.63px;top:827.70px;font-size:9.3px;line-height:9.3px;color:#25262B;transform:scaleX(1.0071);">0 <svg class="rub" viewBox="0 0 62 72" preserveAspectRatio="none"><path d="M19 1 V72 M19 5.5 H38 C52 5.5 57.5 14 57.5 24.5 C57.5 35 52 43.5 38 43.5 H19" fill="none" stroke="currentColor" stroke-width="9.5"/><path d="M3 43.5 H19 M3 58.5 H42" fill="none" stroke="currentColor" stroke-width="7.5"/></svg></span>
<span class="t " id="i_s5" style="left:1018.84px;top:826.71px;font-size:9.6px;line-height:9.6px;color:#2F80FF;transform:scaleX(0.9674);">Выплачено</span>
<span class="t nsp2" id="i_a6" style="left:661.20px;top:863.31px;font-size:9.3px;line-height:9.3px;color:#25262B;transform:scaleX(0.995);">120 000 <svg class="rub" viewBox="0 0 62 72" preserveAspectRatio="none"><path d="M19 1 V72 M19 5.5 H38 C52 5.5 57.5 14 57.5 24.5 C57.5 35 52 43.5 38 43.5 H19" fill="none" stroke="currentColor" stroke-width="9.5"/><path d="M3 43.5 H19 M3 58.5 H42" fill="none" stroke="currentColor" stroke-width="7.5"/></svg></span>
<span class="t nsp2" id="i_b6" style="left:773.90px;top:863.31px;font-size:9.3px;line-height:9.3px;color:#25262B;transform:scaleX(0.995);">120 000 <svg class="rub" viewBox="0 0 62 72" preserveAspectRatio="none"><path d="M19 1 V72 M19 5.5 H38 C52 5.5 57.5 14 57.5 24.5 C57.5 35 52 43.5 38 43.5 H19" fill="none" stroke="currentColor" stroke-width="9.5"/><path d="M3 43.5 H19 M3 58.5 H42" fill="none" stroke="currentColor" stroke-width="7.5"/></svg></span>
<span class="t nsp2" id="i_c6" style="left:894.63px;top:863.31px;font-size:9.3px;line-height:9.3px;color:#25262B;transform:scaleX(1.0071);">0 <svg class="rub" viewBox="0 0 62 72" preserveAspectRatio="none"><path d="M19 1 V72 M19 5.5 H38 C52 5.5 57.5 14 57.5 24.5 C57.5 35 52 43.5 38 43.5 H19" fill="none" stroke="currentColor" stroke-width="9.5"/><path d="M3 43.5 H19 M3 58.5 H42" fill="none" stroke="currentColor" stroke-width="7.5"/></svg></span>
<span class="t " id="i_s6" style="left:1018.84px;top:862.32px;font-size:9.6px;line-height:9.6px;color:#2F80FF;transform:scaleX(0.9674);">Выплачено</span>
</div>
</body></html>
